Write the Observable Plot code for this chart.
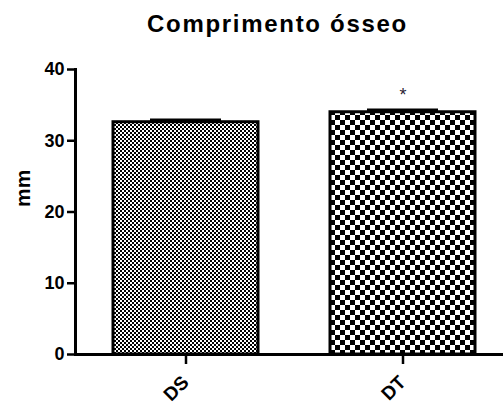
<!DOCTYPE html>
<html>
<head>
<meta charset="utf-8">
<script src="https://cdn.jsdelivr.net/npm/d3@7"></script>
<script src="https://cdn.jsdelivr.net/npm/@observablehq/plot@0.6"></script>
<style>
  html, body { margin: 0; padding: 0; background: #fff; }
  body { width: 503px; height: 405px; overflow: hidden; font-family: "Liberation Sans", Arial, sans-serif; }
  #head { position: relative; height: 50px; }
  #title { position: absolute; top: 12px; left: 0; width: 503px; box-sizing: border-box; padding-left: 52px;
           text-align: center; font-size: 24px; line-height: 24px; font-weight: bold; letter-spacing: 1.7px; color: #000; }
  #chart svg { display: block; }
</style>
</head>
<body>
<div id="head"><div id="title">Comprimento ósseo</div></div>
<div id="chart"></div>
<script>
// ---- data ----
const groups = ["DS", "DT"];
const means = [32.6, 34.0];
const sems = [0.35, 0.35];
const sigMarks = ["", "*"];
const yTicks = [0, 10, 20, 30, 40];
const yLabel = "mm";
const patternIds = ["patDS", "patDT"];

const rows = groups.map((g, i) => ({group: g, mean: means[i], sem: sems[i], sig: sigMarks[i], fill: `url(#${patternIds[i]})`}));

const chart = Plot.plot({
  width: 503,
  height: 355,
  marginTop: 19,
  marginBottom: 51,
  marginLeft: 75,
  marginRight: 0,
  style: {fontFamily: "'Liberation Sans', Arial, sans-serif", fontSize: "18px", fontWeight: "bold", color: "#000", background: "#fff"},
  x: {domain: groups, range: [75, 513], paddingInner: 0.33, paddingOuter: 0.17, label: null},
  y: {domain: [0, 40], label: null},
  color: {type: "identity"},
  marks: [
    Plot.barY(rows, {x: "group", y: "mean", fill: "fill", stroke: "#000", strokeWidth: 3}),
    Plot.ruleX(rows, {x: "group", y1: "mean", y2: d => d.mean + d.sem, stroke: "#000", strokeWidth: 2}),
    Plot.tickY(rows, {x: "group", y: d => d.mean + d.sem, stroke: "#000", strokeWidth: 2.5, insetLeft: 37, insetRight: 37}),
    Plot.text(rows, {x: "group", y: d => d.mean + d.sem, text: "sig", dy: -15, fontSize: 18, fontWeight: "normal", fill: "#2a1a33", lineAnchor: "middle"}),
    Plot.axisY({ticks: yTicks, tickSize: 8, tickPadding: 3, strokeWidth: 2.5, label: null, letterSpacing: 1.5, fontSize: 18}),
    Plot.frame({anchor: "left", strokeWidth: 3}),
    Plot.ruleY([0], {strokeWidth: 3}),
    Plot.axisX({tickSize: 10, strokeWidth: 2.5, tickFormat: () => "", label: null}),
    Plot.text(groups, {x: d => d, frameAnchor: "bottom", rotate: -45, textAnchor: "end", lineAnchor: "bottom", dx: 4, dy: 29, fontSize: 19, letterSpacing: 1}),
    Plot.text([yLabel], {frameAnchor: "left", rotate: -90, dx: -52, dy: -5, lineAnchor: "middle", fontSize: 21, letterSpacing: 2})
  ]
});

// checkerboard patterns
const svg = d3.select(chart);
const defs = svg.insert("defs", ":first-child");
function checker(id, s) {
  const p = defs.append("pattern").attr("id", id).attr("patternUnits", "userSpaceOnUse")
    .attr("width", 2 * s).attr("height", 2 * s);
  p.append("rect").attr("width", 2 * s).attr("height", 2 * s).attr("fill", "#fff");
  p.append("rect").attr("width", s).attr("height", s).attr("fill", "#000");
  p.append("rect").attr("x", s).attr("y", s).attr("width", s).attr("height", s).attr("fill", "#000");
}
checker(patternIds[0], 2);
checker(patternIds[1], 5);

document.getElementById("chart").appendChild(chart);
</script>
</body>
</html>
